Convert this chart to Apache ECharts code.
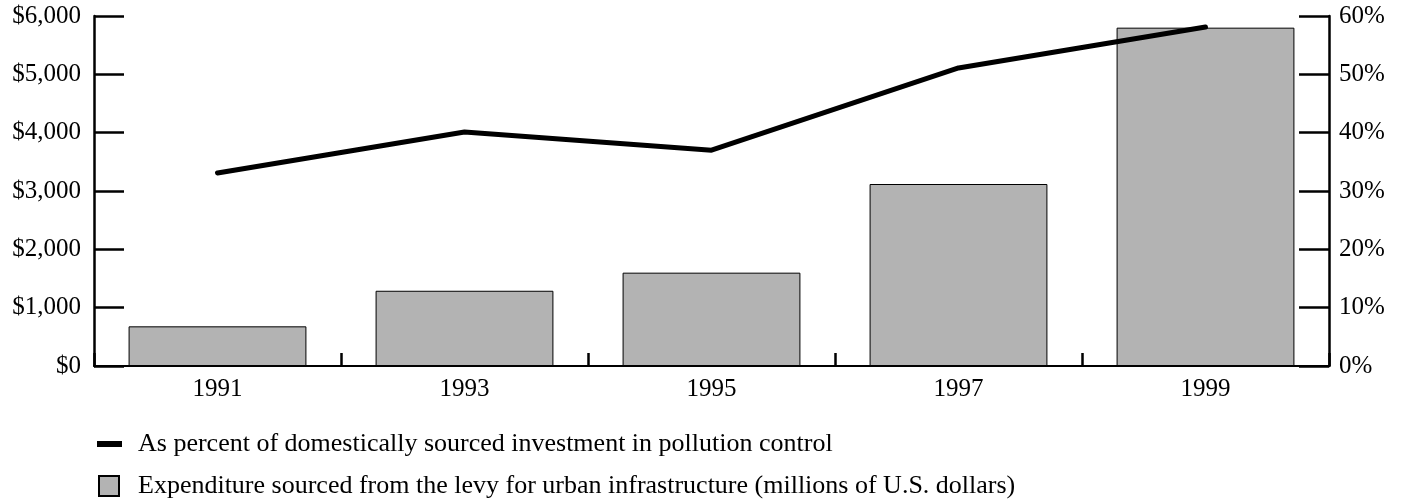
<!DOCTYPE html>
<html>
<head>
<meta charset="utf-8">
<script src="https://cdn.jsdelivr.net/npm/echarts@6/dist/echarts.min.js"></script>
<style>
  html, body { margin: 0; padding: 0; background: #fff; }
  #chart { width: 1402px; height: 501px; }
</style>
</head>
<body>
<div id="chart"></div>
<script>
// data
const years = ["1991", "1993", "1995", "1997", "1999"];
const levyExpenditure = [680, 1290, 1600, 3120, 5800]; // millions of US$
const pctOfInvestment = [33.1, 40.1, 37.0, 51.1, 58.1]; // percent

const lineName = "As percent of domestically sourced investment in pollution control";
const barName = "Expenditure sourced from the levy for urban infrastructure (millions of U.S. dollars)";

const font = "Liberation Serif";
const fs = 25;
const chart = echarts.init(document.getElementById("chart"));

chart.setOption({
  animation: false,
  textStyle: { fontFamily: font, color: "#000" },
  grid: { left: 94, right: 73, top: 16, bottom: 135 },
  legend: {
    orient: "vertical",
    left: 96,
    top: 431,
    padding: 0,
    itemWidth: 25,
    itemHeight: 20,
    itemGap: 16,
    textStyle: { fontFamily: font, fontSize: 26, color: "#000", padding: [0, 0, 0, 11] },
    data: [
      // extra move-to points keep the icon box 25x20 so the bar stays thin
      { name: lineName, icon: "path://M0,0M25,20M0,7h25v6h-25z" },
      { name: barName, icon: "path://M0,0M25,20M2,0h20v20h-20z" },
    ],
  },
  xAxis: {
    type: "category",
    data: years,
    boundaryGap: true,
    axisLine: { lineStyle: { color: "#000", width: 2 } },
    axisTick: { show: true, inside: true, length: 13, lineStyle: { color: "#000", width: 2.5 } },
    axisLabel: { fontSize: fs, color: "#000", margin: 11, fontFamily: font },
  },
  yAxis: [
    {
      type: "value",
      min: 0,
      max: 6000,
      interval: 1000,
      axisLine: { show: true, lineStyle: { color: "#000", width: 2.5 } },
      axisTick: { show: true, inside: true, length: 30, lineStyle: { color: "#000", width: 2.5 } },
      splitLine: { show: false },
      axisLabel: {
        fontSize: fs,
        color: "#000",
        margin: 13,
        fontFamily: font,
        formatter: (v) => "$" + v.toLocaleString("en-US"),
      },
    },
    {
      type: "value",
      min: 0,
      max: 60,
      interval: 10,
      position: "right",
      axisLine: { show: true, lineStyle: { color: "#000", width: 2.5 } },
      axisTick: { show: true, inside: true, length: 30, lineStyle: { color: "#000", width: 2.5 } },
      splitLine: { show: false },
      axisLabel: { fontSize: fs, color: "#000", margin: 10, fontFamily: font, formatter: "{value}%" },
    },
  ],
  series: [
    {
      name: barName,
      type: "bar",
      data: levyExpenditure,
      barCategoryGap: "28%",
      itemStyle: { color: "#b3b3b3", borderColor: "#000", borderWidth: 1 },
    },
    {
      name: lineName,
      type: "line",
      yAxisIndex: 1,
      data: pctOfInvestment,
      symbol: "none",
      z: 5,
      lineStyle: { color: "#000", width: 5, cap: "round" },
      itemStyle: { color: "#000" },
    },
  ],
});
</script>
</body>
</html>
